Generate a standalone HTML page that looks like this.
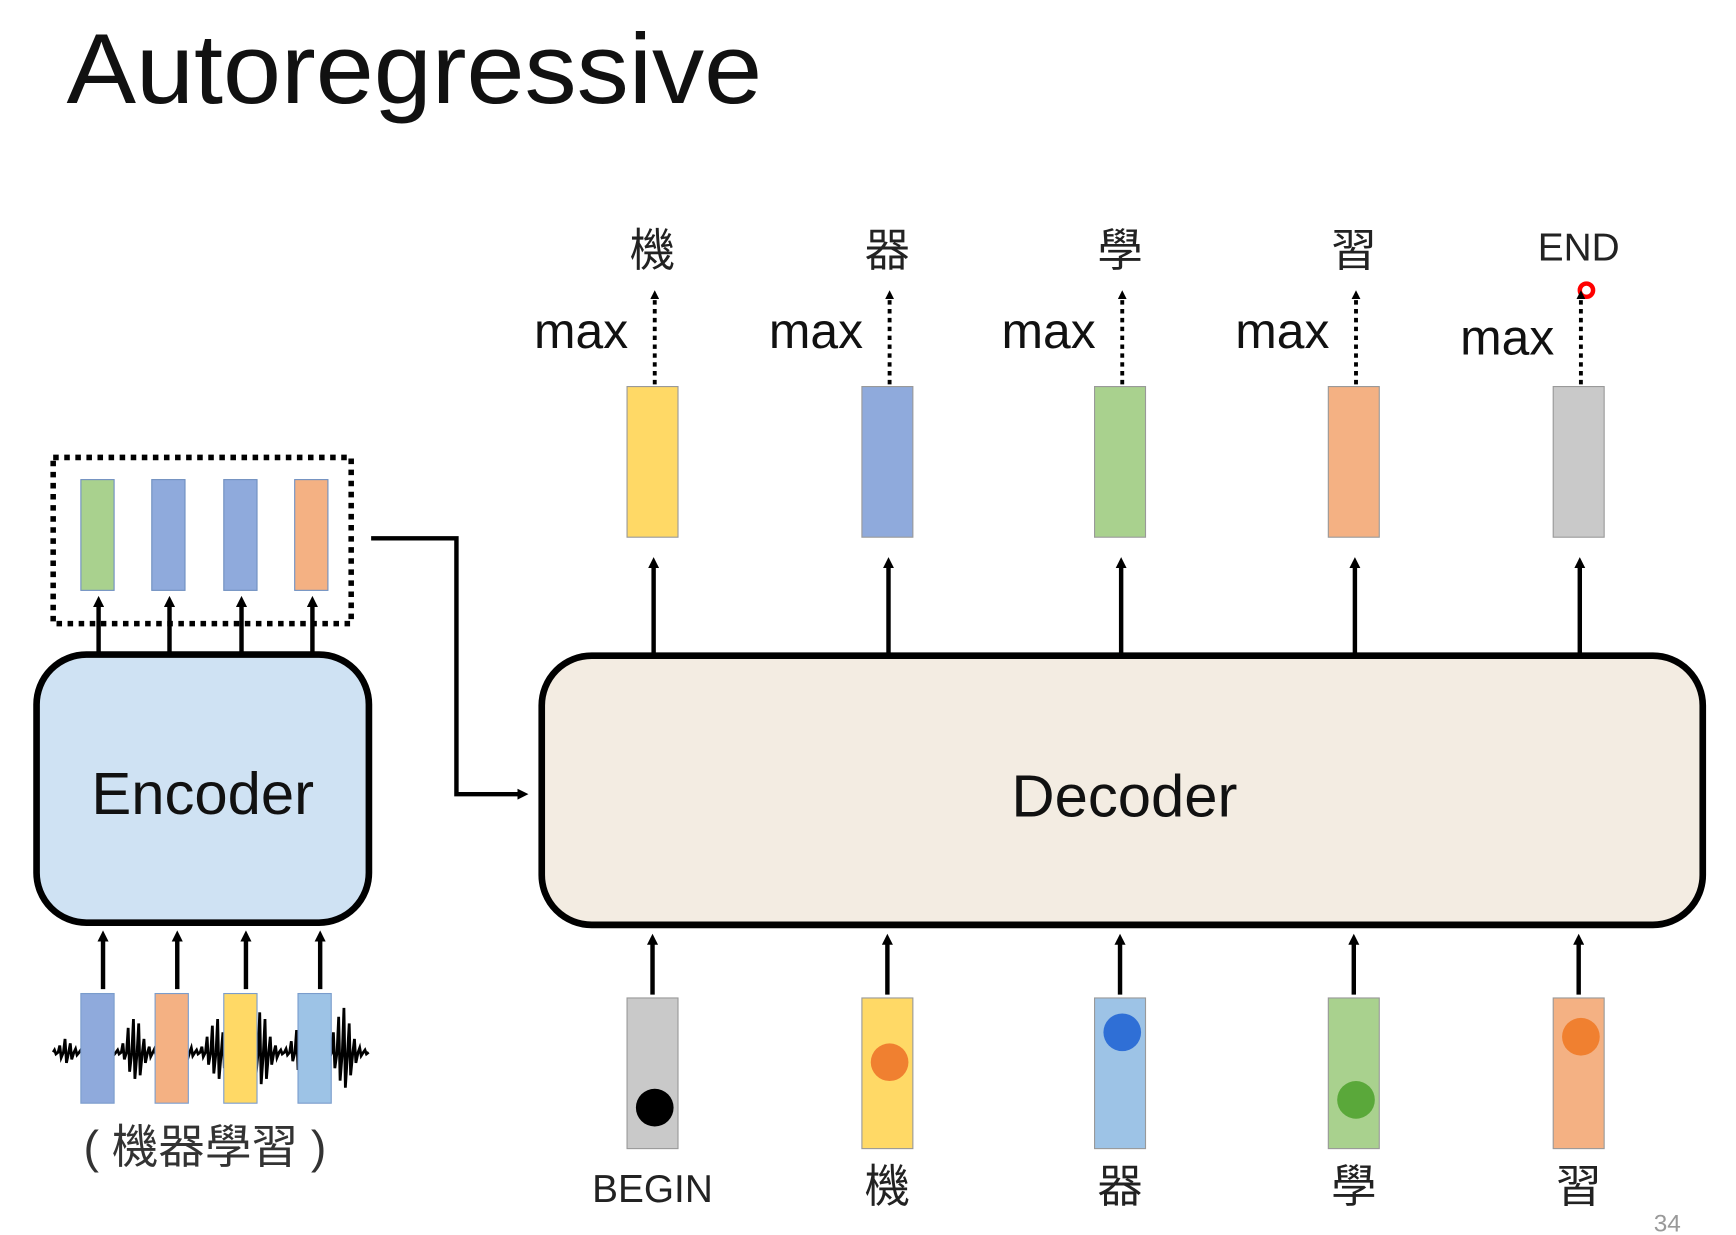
<!DOCTYPE html>
<html><head><meta charset="utf-8"><style>
html,body{margin:0;padding:0;background:#fff;width:1736px;height:1235px;overflow:hidden}
text{font-family:"Liberation Sans","Noto Sans CJK TC",sans-serif}
</style></head><body>
<svg id="s" width="1736" height="1235" viewBox="0 0 1567 1115" preserveAspectRatio="none" xmlns="http://www.w3.org/2000/svg">
<defs>
<marker id="ah" markerWidth="10" markerHeight="10" refX="5" refY="5" orient="auto" markerUnits="userSpaceOnUse"><path d="M0,0 L10,5 L0,10 z" fill="#000"/></marker>
<marker id="ahs" markerWidth="8" markerHeight="8" refX="4" refY="4" orient="auto" markerUnits="userSpaceOnUse"><path d="M0,0 L8,4 L0,8 z" fill="#000"/></marker>
</defs>
<text x="60" y="93" font-size="90" textLength="628" lengthAdjust="spacingAndGlyphs" fill="#111">Autoregressive</text>

<rect x="33" y="591" width="300" height="242" rx="45" fill="#cfe2f3" stroke="#000" stroke-width="6"/>
<text x="183" y="735" font-size="54" text-anchor="middle" fill="#111">Encoder</text>
<rect x="48" y="413" width="269" height="150" fill="none" stroke="#000" stroke-width="5" stroke-dasharray="5,5"/>
<path d="M335,486 H412 V717 H472" fill="none" stroke="#000" stroke-width="4" marker-end="url(#ah)"/>

<rect x="489" y="592" width="1048" height="243" rx="45" fill="#f3ece2" stroke="#000" stroke-width="6"/>
<text x="1015" y="737" font-size="54" text-anchor="middle" fill="#111">Decoder</text>

<text x="1505" y="1112" font-size="22" text-anchor="middle" fill="#999">34</text>
<circle cx="1432" cy="262" r="6" fill="none" stroke="#f00" stroke-width="4"/>
<g id="g"></g>
</svg>
<script>
const encOutColors=['#a9d18e','#8faadc','#8faadc','#f4b183'];
const encOutX=[88,152,217,281];
const encInColors=['#8faadc','#f4b183','#ffd966','#9dc3e6'];
const encInX=[88,155,217,284];
const decX=[589,801,1011,1222,1425];
const outColors=['#ffd966','#8faadc','#a9d18e','#f4b183','#c9c9c9'];
const outLabels=['機','器','學','習','END'];
const inColors=['#c9c9c9','#ffd966','#9dc3e6','#a9d18e','#f4b183'];
const inLabels=['BEGIN','機','器','學','習'];
const dotColors=['#000','#f08030','#2f6fd6','#5aa83a','#f08030'];
const dotY=[1000,959,932,993,936];
const NS='http://www.w3.org/2000/svg';
const g=document.getElementById('g');
function mk(t,a,name){const e=document.createElementNS(NS,t);for(const k in a)e.setAttribute(k,a[k]);


g.appendChild(e);return e;}
// waveform
const amps=[2,6,12,8,3,2,4,10,18,14,6,3,2,8,22,30,26,12,5,3,6,16,28,34,20,8,4,2,5,14,24,30,18,6,3,2,4,12,26,36,30,14,6,2,3,10,20,28,24,10,4,2,6,18,32,40,26,12,4,2];
let d='M48,950';
for(let i=0;i<amps.length;i++){const x=48+i*(285/amps.length);d+=' L'+(x+1.2)+','+(950-amps[i])+' L'+(x+2.5)+','+(950+amps[i]*0.8)+' L'+(x+4.5)+',950';}
mk('path',{d:d,fill:'none',stroke:'#000','stroke-width':2.5},'audio-waveform');
encOutX.forEach((x,i)=>{
 mk('rect',{x:x-15,y:433,width:30,height:100,fill:encOutColors[i],stroke:'#6f8fc0','stroke-width':1},'encoder-output-vector');
 mk('line',{x1:x+1,y1:590,x2:x+1,y2:543,stroke:'#000','stroke-width':4,'marker-end':'url(#ah)'},'encoder-output-arrow');
});
encInX.forEach((x,i)=>{
 mk('rect',{x:x-15,y:897,width:30,height:99,fill:encInColors[i],stroke:'#7a9ccc','stroke-width':1},'encoder-input-vector');
 mk('line',{x1:x+5,y1:893,x2:x+5,y2:845,stroke:'#000','stroke-width':4,'marker-end':'url(#ah)'},'encoder-input-arrow');
});
const t=mk('text',{x:185,y:1050,'font-size':42,'text-anchor':'middle',fill:'#333'},'encoder-input-text');t.textContent='( 機器學習 )';
decX.forEach((x,i)=>{
 mk('rect',{x:x-23,y:349,width:46,height:136,fill:outColors[i],stroke:'#999','stroke-width':1},'decoder-output-distribution');
 mk('line',{x1:x+1,y1:590,x2:x+1,y2:508,stroke:'#000','stroke-width':4,'marker-end':'url(#ah)'},'decoder-output-arrow');
 mk('line',{x1:x+2,y1:347,x2:x+2,y2:266,stroke:'#000','stroke-width':3.5,'stroke-dasharray':'4,4','marker-end':'url(#ahs)'},'max-dotted-arrow');
 const m=mk('text',{x:x-22,y:i==4?320:314,'font-size':45,'text-anchor':'end',fill:'#111'},'max-label');m.textContent='max';
 const o=mk('text',{x:x,y:i==4?235:240,'font-size':i==4?35:41,'text-anchor':'middle',fill:'#222'},'output-token');o.textContent=outLabels[i];
 mk('rect',{x:x-23,y:901,width:46,height:136,fill:inColors[i],stroke:'#999','stroke-width':1},'decoder-input-vector');
 mk('circle',{cx:x+2,cy:dotY[i],r:17,fill:dotColors[i]},'one-hot-dot');
 mk('line',{x1:x,y1:898,x2:x,y2:848,stroke:'#000','stroke-width':4,'marker-end':'url(#ah)'},'decoder-input-arrow');
 const b=mk('text',{x:x,y:1085,'font-size':i==0?35:41,'text-anchor':'middle',fill:'#222'},'input-token');b.textContent=inLabels[i];
});
</script>
</body></html>
